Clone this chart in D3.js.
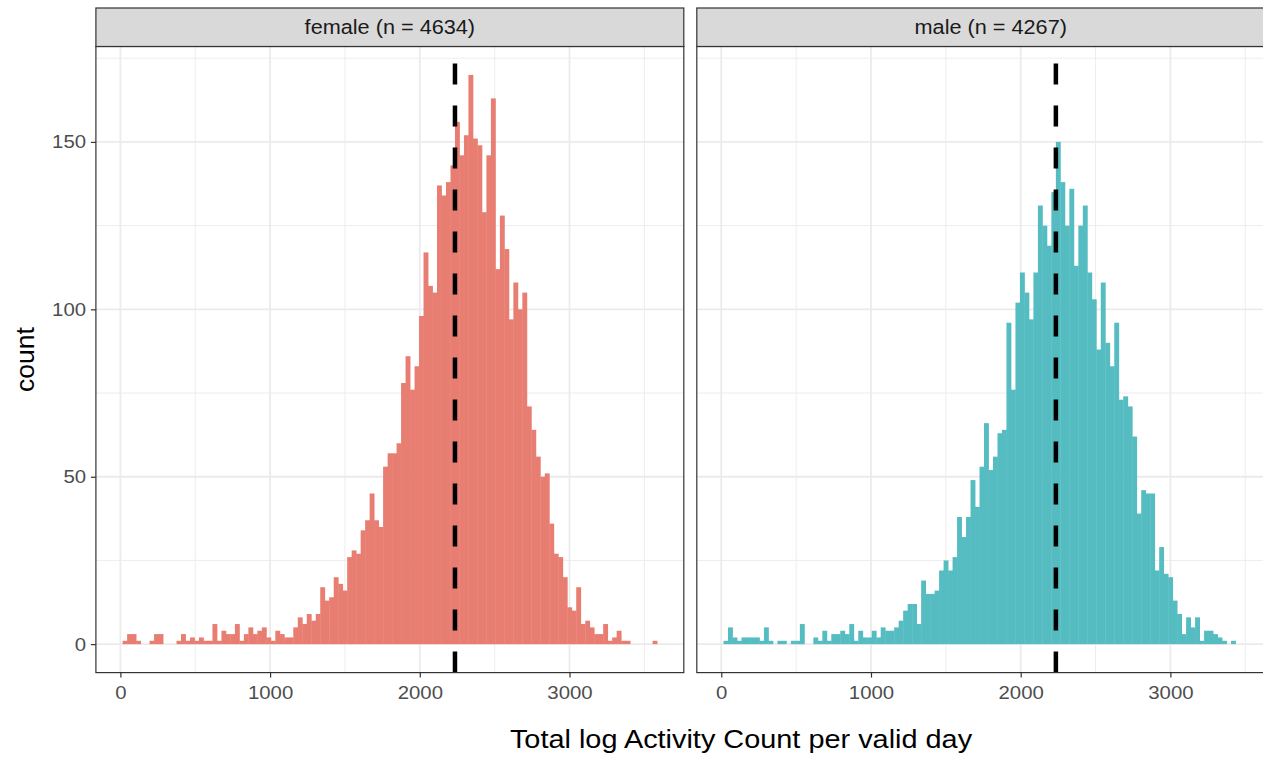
<!DOCTYPE html>
<html>
<head>
<meta charset="utf-8">
<script src="https://cdn.jsdelivr.net/npm/d3@7"></script>
<style>
  body { margin: 0; background: #fff; }
  svg { display: block; font-family: "Liberation Sans", Arial, sans-serif; }
</style>
</head>
<body>
<div id="chart"></div>
<script>
// histogram counts per 30-unit bin, first bin starts at 15
var binStart = 15,
    binWidth = 30;

var femaleCounts = [
  1, 3, 3, 1, 0, 0, 1, 3, 3, 0, 0, 0, 1, 3, 1, 2, 1, 2, 1, 1,
  6, 1, 4, 3, 3, 6, 1, 3, 5, 3, 4, 5, 2, 1, 4, 3, 2, 2, 5, 8,
  6, 9, 7, 9, 17, 13, 14, 20, 18, 16, 26, 28, 27, 34, 37, 45, 37, 35, 53, 57,
  57, 60, 78, 86, 76, 83, 98, 117, 107, 105, 137, 134, 138, 143, 156, 146, 152, 170, 151, 149,
  129, 146, 163, 112, 128, 118, 97, 108, 100, 105, 71, 64, 56, 50, 51, 36, 27, 26, 20, 11,
  10, 17, 6, 7, 5, 3, 3, 6, 1, 2, 4, 1, 1, 0, 0, 0, 0, 0, 1
];

var maleCounts = [
  1, 5, 2, 1, 2, 2, 2, 2, 1, 5, 1, 0, 1, 1, 0, 1, 1, 6, 0, 0,
  2, 1, 4, 1, 3, 3, 4, 3, 6, 1, 4, 2, 2, 4, 2, 5, 4, 4, 5, 7,
  10, 12, 12, 6, 19, 15, 15, 16, 22, 25, 22, 26, 38, 32, 38, 49, 41, 53, 66, 52,
  56, 63, 64, 96, 76, 102, 111, 105, 97, 111, 131, 125, 119, 135, 150, 138, 125, 136, 113, 125,
  131, 111, 103, 88, 108, 90, 83, 96, 73, 74, 71, 62, 39, 46, 45, 45, 22, 29, 21, 20,
  13, 9, 3, 8, 5, 8, 1, 4, 4, 3, 2, 1, 0, 1
];

var groupNames = ["female", "male"];
var groupN = [4634, 4267];
var meanValue = 2235;

var xTicks = [0, 1000, 2000, 3000],
    xMinor = [500, 1500, 2500, 3500],
    yTicks = [0, 50, 100, 150],
    yMinor = [25, 75, 125, 175];

var xTitle = "Total log Activity Count per valid day",
    yTitle = "count";

// layout
var width = 1263, height = 757;
var panelLeft = 95.9, panelW = 587.9, panelGap = 13;
var panelTop = 46.5, panelBottom = 672.6, stripTop = 8;
var stretch = 1.09; // glyphs in the reference are a bit wide

var colors = ["#E87D72", "#55BCC2"];

var svg = d3.select("#chart").append("svg")
    .attr("width", width)
    .attr("height", height);

var allCounts = [femaleCounts, maleCounts];
var nBins = d3.max(allCounts, function(c) { return c.length; });
var xLo = binStart, xHi = binStart + binWidth * nBins;
var xPad = (xHi - xLo) * 0.05;
var yMax = d3.max(allCounts, function(c) { return d3.max(c); });

var y = d3.scaleLinear()
    .domain([-0.05 * yMax, yMax * 1.05])
    .range([panelBottom, panelTop]);

groupNames.forEach(function(name, i) {
  var left = panelLeft + i * (panelW + panelGap);
  var x = d3.scaleLinear()
      .domain([xLo - xPad, xHi + xPad])
      .range([left, left + panelW]);

  var bins = allCounts[i].map(function(c, k) {
    return { x0: binStart + k * binWidth, x1: binStart + (k + 1) * binWidth, count: c };
  });

  var g = svg.append("g").attr("class", "panel");

  g.append("rect")
      .attr("x", left).attr("y", panelTop)
      .attr("width", panelW).attr("height", panelBottom - panelTop)
      .attr("fill", "#fff");

  // grid
  g.selectAll(".vminor").data(xMinor).enter().append("line")
      .attr("x1", x).attr("x2", x)
      .attr("y1", panelTop).attr("y2", panelBottom)
      .attr("stroke", "#EBEBEB").attr("stroke-width", 0.9);
  g.selectAll(".hminor").data(yMinor).enter().append("line")
      .attr("x1", left).attr("x2", left + panelW)
      .attr("y1", y).attr("y2", y)
      .attr("stroke", "#EBEBEB").attr("stroke-width", 0.9);
  g.selectAll(".vmajor").data(xTicks).enter().append("line")
      .attr("x1", x).attr("x2", x)
      .attr("y1", panelTop).attr("y2", panelBottom)
      .attr("stroke", "#EBEBEB").attr("stroke-width", 1.8);
  g.selectAll(".hmajor").data(yTicks).enter().append("line")
      .attr("x1", left).attr("x2", left + panelW)
      .attr("y1", y).attr("y2", y)
      .attr("stroke", "#EBEBEB").attr("stroke-width", 1.8);

  // bars (slight overlap so no seams between neighbours)
  g.selectAll(".bar").data(bins.filter(function(d) { return d.count > 0; }))
    .enter().append("rect")
      .attr("x", function(d) { return x(d.x0); })
      .attr("width", function(d) { return x(d.x1) - x(d.x0) + 0.4; })
      .attr("y", function(d) { return y(d.count); })
      .attr("height", function(d) { return y(0) - y(d.count); })
      .attr("fill", colors[i]);

  // mean line, dashes start at the bottom like ggplot
  g.append("line")
      .attr("x1", x(meanValue)).attr("x2", x(meanValue))
      .attr("y1", panelBottom).attr("y2", panelTop)
      .attr("stroke", "#000").attr("stroke-width", 4.5)
      .attr("stroke-dasharray", "21,21");

  g.append("rect")
      .attr("x", left).attr("y", panelTop)
      .attr("width", panelW).attr("height", panelBottom - panelTop)
      .attr("fill", "none").attr("stroke", "#333").attr("stroke-width", 1.2);

  // strip
  g.append("rect")
      .attr("x", left).attr("y", stripTop)
      .attr("width", panelW).attr("height", panelTop - stripTop)
      .attr("fill", "#D9D9D9").attr("stroke", "#333").attr("stroke-width", 1.2);
  g.append("text")
      .attr("transform", "translate(" + (left + panelW / 2) + "," + ((stripTop + panelTop) / 2) + ") scale(" + stretch + ",1)")
      .attr("text-anchor", "middle")
      .attr("dy", "0.35em")
      .attr("font-size", 19.9)
      .attr("fill", "#1A1A1A")
      .text(name + " (n = " + groupN[i] + ")");

  // x axis
  var xAxis = svg.append("g")
      .attr("transform", "translate(0," + panelBottom + ")")
      .call(d3.axisBottom(x).tickValues(xTicks).tickSize(5).tickPadding(8).tickFormat(d3.format("d")));
  xAxis.select(".domain").remove();
  xAxis.selectAll(".tick line").attr("stroke", "#333").attr("stroke-width", 1.2);
  xAxis.selectAll(".tick text")
      .attr("font-size", 18.7).attr("font-family", null)
      .attr("fill", "#4D4D4D")
      .attr("transform", "scale(" + stretch + ",1)");

  if (i === 0) {
    var yAxis = svg.append("g")
        .attr("transform", "translate(" + left + ",0)")
        .call(d3.axisLeft(y).tickValues(yTicks).tickSize(5).tickPadding(4));
    yAxis.select(".domain").remove();
    yAxis.selectAll(".tick line").attr("stroke", "#333").attr("stroke-width", 1.2);
    yAxis.selectAll(".tick text")
        .attr("font-size", 18.7).attr("font-family", null)
        .attr("fill", "#4D4D4D")
        .attr("transform", "scale(" + stretch + ",1)");
  }
});

// axis titles
svg.append("text")
    .attr("transform", "translate(741,747.5) scale(" + stretch + ",1)")
    .attr("text-anchor", "middle")
    .attr("font-size", 26.5)
    .attr("fill", "#000")
    .text(xTitle);

svg.append("text")
    .attr("transform", "translate(33.5," + ((panelTop + panelBottom) / 2) + ") rotate(-90)")
    .attr("text-anchor", "middle")
    .attr("font-size", 26.5)
    .attr("fill", "#000")
    .text(yTitle);
</script>
</body>
</html>
